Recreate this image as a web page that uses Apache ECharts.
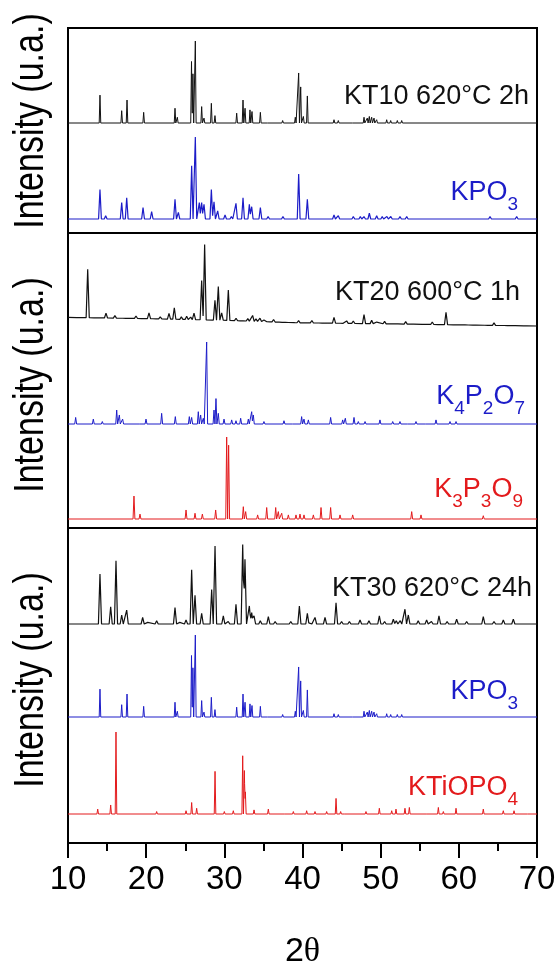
<!DOCTYPE html>
<html>
<head>
<meta charset="utf-8">
<script src="https://cdn.jsdelivr.net/npm/echarts@6/dist/echarts.min.js"></script>
<style>
  html, body { margin: 0; padding: 0; background: #fff; }
  #chart { width: 557px; height: 963px; }
</style>
</head>
<body>
<div id="chart"></div>
<script>
// x axis ticks (2theta)
var xTicks = [10, 20, 30, 40, 50, 60, 70];

// peak lists: [2theta, relative intensity 0-100]
// KPO3 reference pattern (drawn as KT10 in the top panel and KPO3 in the bottom one)
var kpo3Ref = [
  [14.09, 34], [16.87, 15], [17.55, 28], [19.68, 13], [23.69, 18], [23.99, 7],
  [25.80, 75], [25.98, 60], [26.29, 100], [27.10, 20], [27.40, 6], [28.34, 24],
  [28.80, 9], [31.58, 12], [32.39, 28], [32.65, 18], [33.28, 16], [33.54, 14],
  [34.61, 13], [35.63, 2], [37.46, 3], [39.08, 7], [39.51, 61], [39.77, 44],
  [40.11, 8], [40.62, 33], [44.03, 4], [44.58, 3], [46.50, 2], [47.87, 7],
  [48.29, 6], [48.55, 8], [48.85, 7], [49.15, 6], [49.49, 4], [50.77, 4],
  [51.28, 3], [52.13, 3], [52.69, 3]
];

// KPO3 measured (top panel, blue)
var kpo3Meas = [
  [11.5, 1.5], [12.6, 1], [14.09, 36], [14.82, 4], [15.5, 2], [16.87, 20], [17.51, 26],
  [18.3, 2], [19.6, 14], [20.70, 9], [21.5, 2], [22.3, 1.5], [23.69, 24], [24.12, 8],
  [25.82, 65], [26.29, 100], [26.80, 20], [27.10, 20], [27.40, 18], [28.34, 36],
  [28.68, 21], [29.15, 10], [30.09, 5], [30.9, 3], [31.49, 19], [32.39, 26],
  [33.20, 18], [33.50, 15], [34.61, 14], [35.6, 3], [36.5, 2], [37.5, 3], [38.3, 2],
  [39.51, 55], [40.62, 24], [41.5, 2], [42.5, 2], [43.2, 2], [44.03, 5], [44.58, 4],
  [45.4, 2], [46.5, 3], [47.4, 3], [47.87, 3], [48.55, 7], [49.49, 4], [50.2, 3],
  [50.8, 3], [51.3, 3], [52.47, 3], [53.33, 3], [54.3, 2], [55.0, 2], [56.0, 2],
  [57.16, 2], [58.5, 2], [59.5, 2], [60.5, 2], [61.3, 2], [62.3, 2], [63.99, 3],
  [65.0, 2], [66.0, 2], [67.40, 3], [68.5, 2], [69.3, 2]
];

// KT20 600°C 1h (middle panel, black) and its background
var kt20 = [
  [11.3, 2], [12.52, 59], [13.5, 2], [14.86, 6], [16.0, 3], [17.2, 2], [18.7, 3],
  [19.6, 2], [20.36, 7], [21.04, 2], [21.8, 2.5], [22.92, 7], [23.60, 14], [24.5, 3],
  [25.18, 4], [25.70, 3], [26.12, 8], [27.10, 48], [27.48, 92], [28.80, 24],
  [29.23, 41], [29.66, 9], [30.51, 37], [31.5, 3], [32.2, 2], [33.0, 3], [33.62, 7],
  [34.05, 3], [34.56, 4], [35.07, 2], [35.63, 2], [36.3, 3], [37.2, 2.5], [38.0, 2],
  [39.5, 2.5], [40.4, 2], [41.2, 3], [42.3, 2], [43.0, 2], [44.03, 7], [45.0, 2],
  [45.65, 3], [46.50, 3], [47.87, 11], [48.85, 4], [49.5, 2], [50.5, 3], [52.0, 2],
  [53.2, 3], [54.0, 2], [55.5, 2], [56.6, 3], [57.5, 2], [58.36, 15], [59.5, 2],
  [61.0, 2], [62.0, 2], [63.5, 2], [64.5, 3], [66.0, 2], [67.0, 2], [68.5, 2]
];
var kt20Bg = [[10, 10.5], [20, 9], [30, 7], [39, 4], [52, 2.5], [70, 0]];

// K4P2O7 reference (middle panel, blue)
var k4p2o7 = [
  [10.98, 8], [13.24, 6], [14.39, 3], [16.23, 17], [16.57, 11], [16.99, 6], [19.30, 2],
  [19.98, 6], [21.98, 13], [23.73, 9], [25.52, 9], [25.82, 8], [26.67, 15], [26.97, 11],
  [27.31, 7], [27.74, 100], [28.68, 17], [28.93, 31], [29.23, 13], [29.96, 6],
  [30.94, 5], [31.49, 4], [32.09, 7], [33.07, 6], [33.50, 15], [33.71, 11], [35.07, 3],
  [37.63, 4], [38.83, 2], [39.89, 9], [40.19, 6], [40.75, 5], [43.60, 8], [45.14, 5],
  [45.48, 7], [46.59, 8], [47.14, 3], [48.00, 3], [49.91, 5], [51.54, 3], [52.47, 3],
  [53.54, 2], [54.52, 3], [55.88, 2], [57.08, 5], [58.87, 3], [59.64, 3]
];

// K3P3O9 reference (middle panel, red)
var k3p3o9 = [
  [18.44, 28], [19.21, 6], [25.10, 11], [26.25, 7], [27.19, 6], [28.89, 11],
  [30.30, 100], [30.55, 90], [32.43, 15], [32.73, 9], [34.26, 5], [35.42, 14],
  [36.57, 14], [36.91, 9], [37.34, 7], [38.19, 5], [39.17, 5], [39.68, 6], [40.19, 5],
  [41.39, 5], [42.37, 14], [43.60, 14], [44.80, 5], [46.42, 5], [53.97, 9],
  [55.16, 5], [63.13, 4]
];

// KT30 620°C 24h (bottom panel, black)
var kt30 = [
  [11.0, 1.5], [12.2, 2], [13.0, 2], [14.09, 61], [15.46, 21], [16.14, 77], [16.87, 11],
  [17.51, 17], [18.5, 2], [19.55, 8], [20.2, 2], [21.34, 4], [22.3, 2], [23.69, 20],
  [24.3, 2], [25.10, 5], [25.82, 66], [26.25, 35], [27.10, 13], [28.38, 42],
  [28.81, 95], [29.87, 10], [30.5, 3], [31.49, 24], [32.35, 97], [32.64, 79],
  [33.20, 22], [33.50, 14], [33.80, 10], [34.6, 4], [35.63, 9], [36.5, 3], [37.55, 2],
  [38.5, 3], [39.60, 22], [40.62, 13], [41.0, 3], [41.60, 8], [42.88, 8], [44.29, 26],
  [45.0, 3], [46.0, 3], [47.36, 5], [48.5, 4], [49.83, 10], [50.5, 3], [51.62, 6],
  [52.0, 4], [52.5, 4], [53.11, 18], [53.54, 11], [54.8, 4], [55.88, 5], [56.5, 3],
  [57.46, 10], [58.5, 3], [59.72, 6], [61.0, 3], [62.0, 2], [63.13, 9], [64.5, 3],
  [65.69, 5], [66.97, 6], [68.5, 2], [69.5, 2]
];

// KTiOPO4 reference (bottom panel, red)
var ktiopo4 = [
  [13.80, 6], [15.46, 11], [16.14, 100], [21.34, 3], [25.10, 4], [25.82, 14],
  [26.46, 7], [28.81, 52], [30.00, 3], [31.15, 4], [32.35, 71], [32.56, 53],
  [32.69, 27], [33.80, 5], [35.63, 6], [37.76, 2], [38.83, 3], [40.53, 4], [41.60, 3],
  [43.09, 3], [44.29, 19], [44.88, 3], [45.44, 2], [48.12, 3], [49.83, 7], [51.41, 4],
  [51.96, 6], [53.11, 7], [53.67, 8], [56.01, 2], [57.38, 8], [58.02, 3], [59.64, 7],
  [63.13, 6], [65.69, 4], [67.06, 4], [68.89, 2]
];

var BLACK = '#111111';
var BLUE = '#1c1cc8';
var RED = '#e31a1c';
var FONT = 'Liberation Sans, Arial, sans-serif';

function bgAt(bg, x) {
  if (!bg) return 0;
  for (var i = 1; i < bg.length; i++) {
    if (x <= bg[i][0]) {
      var t = (x - bg[i - 1][0]) / (bg[i][0] - bg[i - 1][0]);
      return bg[i - 1][1] + t * (bg[i][1] - bg[i - 1][1]);
    }
  }
  return bg[bg.length - 1][1];
}

// turn a peak list into a line: each peak is a narrow triangle on the baseline
function profile(peaks, w, bg) {
  var xs = [xTicks[0], xTicks[xTicks.length - 1]];
  peaks.forEach(function (p) { xs.push(p[0] - w, p[0], p[0] + w); });
  if (bg) bg.forEach(function (b) { xs.push(b[0]); });
  xs.sort(function (a, b) { return a - b; });
  var out = [];
  xs.forEach(function (x, i) {
    if (x < 10 || x > 70 || (i > 0 && x === xs[i - 1])) return;
    var y = 0;
    peaks.forEach(function (p) {
      var d = Math.abs(x - p[0]);
      if (d < w) y = Math.max(y, p[1] * (1 - d / w));
    });
    out.push([x, bgAt(bg, x) + y]);
  });
  return out;
}

var traces = [
  { peaks: kpo3Ref, w: 0.1, color: BLACK, base: 123, lw: 1 },
  { peaks: kpo3Meas, w: 0.18, color: BLUE, base: 219, lw: 1.2 },
  { peaks: kt20, w: 0.2, bg: kt20Bg, color: BLACK, base: 326, lw: 1.2 },
  { peaks: k4p2o7, w: 0.12, color: BLUE, base: 424, lw: 1 },
  { peaks: k3p3o9, w: 0.12, color: RED, base: 519, lw: 1 },
  { peaks: kt30, w: 0.2, color: BLACK, base: 624, lw: 1.2 },
  { peaks: kpo3Ref, w: 0.1, color: BLUE, base: 717, lw: 1 },
  { peaks: ktiopo4, w: 0.1, color: RED, base: 814, lw: 1 }
];

var panels = [[28, 205], [233, 295], [528, 315]];
var yLabelCenters = [121, 385, 680];
var LEFT = 68, RIGHT = 20, H = 82;

var grids = [], xAxes = [], yAxes = [], series = [];

panels.forEach(function (p, i) {
  var last = i === panels.length - 1;
  grids.push({ left: LEFT, right: RIGHT, top: p[0], height: p[1], show: true,
    containLabel: false, outerBoundsMode: 'none',
    borderColor: '#000', borderWidth: 2, backgroundColor: 'transparent' });
  xAxes.push({
    gridIndex: i, type: 'value', min: xTicks[0], max: xTicks[xTicks.length - 1],
    interval: xTicks[1] - xTicks[0], show: last,
    axisLine: { show: true, lineStyle: { color: '#000', width: 2 } },
    axisTick: { show: true, inside: false, length: 15, lineStyle: { color: '#000', width: 2 } },
    minorTick: { show: true, splitNumber: 2, length: 8, lineStyle: { color: '#000', width: 2 } },
    splitLine: { show: false },
    axisLabel: { show: true, fontSize: 33, color: '#000', fontFamily: FONT, margin: 20,
      showMinLabel: true, showMaxLabel: true },
    name: last ? '{a|2}{b|θ}' : '', nameLocation: 'middle', nameGap: 92,
    nameTextStyle: { rich: {
      a: { fontSize: 34, color: '#000', fontFamily: FONT },
      b: { fontSize: 34, color: '#000', fontFamily: 'Liberation Serif, serif' }
    } }
  });
  yAxes.push({
    gridIndex: i, type: 'value', min: 0, max: 1, show: false
  });
});

traces.forEach(function (t, i) {
  var gi = panels.length + i;
  grids.push({ left: LEFT, right: RIGHT, top: t.base - H, height: H,
    containLabel: false, outerBoundsMode: 'none' });
  xAxes.push({ gridIndex: gi, type: 'value', min: 10, max: 70, show: false });
  yAxes.push({ gridIndex: gi, type: 'value', min: 0, max: 100, show: false });
  series.push({
    type: 'line', xAxisIndex: gi, yAxisIndex: gi, showSymbol: false, clip: false,
    data: profile(t.peaks, t.w, t.bg),
    lineStyle: { color: t.color, width: t.lw }, silent: true
  });
});

var rich = {
  n: { fontSize: 27, lineHeight: 27, verticalAlign: 'top', fontFamily: FONT },
  s: { fontSize: 19, lineHeight: 19, verticalAlign: 'top', fontFamily: FONT, padding: [16, 0, 0, 0] }
};

function plain(text, right, y, color) {
  return { type: 'text', x: right, y: y, style: { text: text, fill: color, fontSize: 27,
    fontFamily: FONT, align: 'right', verticalAlign: 'middle' } };
}
function formula(text, right, top, color) {
  return { type: 'text', x: right, y: top, style: { text: text, fill: color, rich: rich,
    align: 'right', verticalAlign: 'top' } };
}
// condensed, rotated axis title like the original figure
function yTitle(cy) {
  return { type: 'text', x: 31, y: cy, rotation: Math.PI / 2, scaleX: 0.81,
    style: { text: 'Intensity (u.a.)', fill: '#000', fontSize: 42, fontFamily: FONT,
      align: 'center', verticalAlign: 'middle' } };
}

var graphics = [
  plain('KT10 620°C 2h', 529, 97, BLACK),
  formula('{n|KPO}{s|3}', 518, 179, BLUE),
  plain('KT20 600°C 1h', 520, 293, BLACK),
  formula('{n|K}{s|4}{n|P}{s|2}{n|O}{s|7}', 525, 383, BLUE),
  formula('{n|K}{s|3}{n|P}{s|3}{n|O}{s|9}', 523, 476, RED),
  plain('KT30 620°C 24h', 532, 589, BLACK),
  formula('{n|KPO}{s|3}', 518, 678, BLUE),
  formula('{n|KTiOPO}{s|4}', 518, 774, RED)
];
yLabelCenters.forEach(function (cy) { graphics.push(yTitle(cy)); });

var option = {
  animation: false,
  grid: grids,
  xAxis: xAxes,
  yAxis: yAxes,
  series: series,
  graphic: graphics
};

var chart = echarts.init(document.getElementById('chart'));
chart.setOption(option);
</script>
</body>
</html>
